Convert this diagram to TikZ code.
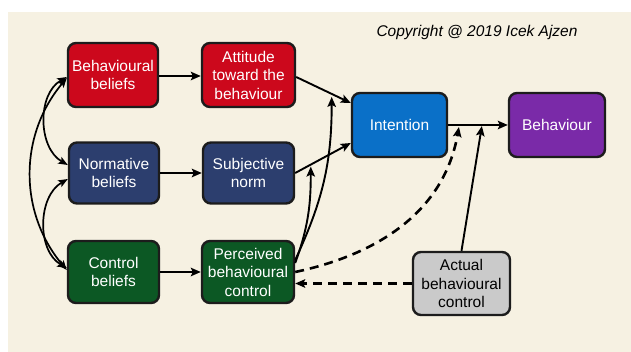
\documentclass[tikz,border=0pt]{standalone}
\usepackage{fontspec}
\setmainfont{Liberation Sans}
\usetikzlibrary{arrows.meta,calc}
\definecolor{bgc}{RGB}{246,241,226}
\definecolor{redc}{RGB}{204,8,28}
\definecolor{navyc}{RGB}{44,62,110}
\definecolor{greenc}{RGB}{12,88,36}
\definecolor{bluec}{RGB}{10,112,200}
\definecolor{purplec}{RGB}{122,42,168}
\definecolor{greyc}{RGB}{202,202,202}
\definecolor{edgec}{RGB}{28,28,28}
\tikzset{
  box/.style={draw=edgec, line width=2.4pt, rounded corners=8pt, align=center,
    inner sep=0pt, font=\fontsize{15.5}{18.5}\selectfont, text=white},
  conn/.style={line width=1.9pt, -{Stealth[length=10pt,width=8.5pt,inset=2pt]}},
  dconn/.style={conn, line width=2.6pt, dash pattern=on 9pt off 6pt},
  biconn/.style={line width=1.7pt, {Stealth[length=9.5pt,width=7.5pt,inset=2pt]}-{Stealth[length=9.5pt,width=7.5pt,inset=2pt]}}
}
\begin{document}
\begin{tikzpicture}[x=1pt,y=-1pt]
\useasboundingbox (0,0) rectangle (631,352);
\fill[white] (0,0) rectangle (631,352);
\fill[bgc] (8,12) rectangle (631,352);

\node[font=\fontsize{15.5}{18}\selectfont\itshape] (copy) at (477,32) {Copyright @ 2019 Icek Ajzen};

\node[box, fill=redc, minimum width=90pt, minimum height=64pt] (BB) at (113,75) {Behavioural\\beliefs};
\node[box, fill=redc, minimum width=93pt, minimum height=64pt] (AT) at (248.5,75) {Attitude\\toward the\\behaviour};
\node[box, fill=navyc, minimum width=90pt, minimum height=61pt] (NB) at (114,173) {Normative\\beliefs};
\node[box, fill=navyc, minimum width=91pt, minimum height=61pt] (SN) at (248.5,173) {Subjective\\norm};
\node[box, fill=greenc, minimum width=91pt, minimum height=62pt] (CB) at (113.5,272) {Control\\beliefs};
\node[box, fill=greenc, minimum width=92pt, minimum height=62pt] (PBC) at (248,272) {Perceived\\behavioural\\control};
\node[box, fill=bluec, minimum width=95pt, minimum height=64pt] (INT) at (399.5,125) {Intention};
\node[box, fill=purplec, minimum width=96pt, minimum height=64pt] (BEH) at (557,125) {Behaviour};
\node[box, fill=greyc, text=black, minimum width=97pt, minimum height=63pt] (ABC) at (461.5,283.5) {Actual\\behavioural\\control};

% main paths
\draw[conn] ([yshift=-1pt]BB.east) -- ([yshift=-1pt]AT.west);
\draw[conn] (NB.east) -- (SN.west);
\draw[conn] (CB.east) -- (PBC.west);
\coordinate (ai) at ([yshift=22pt]INT.west);
\coordinate (si) at ([yshift=-18pt]INT.west);
\draw[conn] ([yshift=-2pt]AT.east) -- (ai);
\draw[conn] (SN.east) -- (si);
\draw[conn] (INT.east) -- (BEH.west);

% moderation points
\coordinate (m1) at ($([yshift=-2pt]AT.east)!0.65!(ai)$);
\coordinate (m2) at ($(SN.east)!0.28!(si)$);
\coordinate (m3) at ($(INT.east)!0.18!(BEH.west)$);
\coordinate (m4) at ($(INT.east)!0.565!(BEH.west)$);

\draw[conn] ([yshift=12pt]PBC.east) to[out=65,in=-90] ([yshift=-3pt]m1);
\draw[conn] ([yshift=9pt]PBC.east) to[out=70,in=-90] ([yshift=-2pt]m2);
\draw[dconn] (PBC.east) to[out=12,in=-100] ([yshift=-2pt]m3);
\draw[conn] (ABC.north) -- ([yshift=-1pt]m4);
\draw[dconn] (ABC.west) -- (ABC.west -| PBC.east);

% belief correlations
\draw[biconn] ([yshift=-2pt]BB.west) to[out=210,in=150] ([yshift=8pt]NB.west);
\draw[biconn] ([yshift=-6pt]NB.west) to[out=210,in=150] ([yshift=4pt]CB.west);
\draw[biconn] ([yshift=-3pt]BB.west) to[out=230,in=130] ([yshift=2pt]CB.west);
\end{tikzpicture}
\end{document}
